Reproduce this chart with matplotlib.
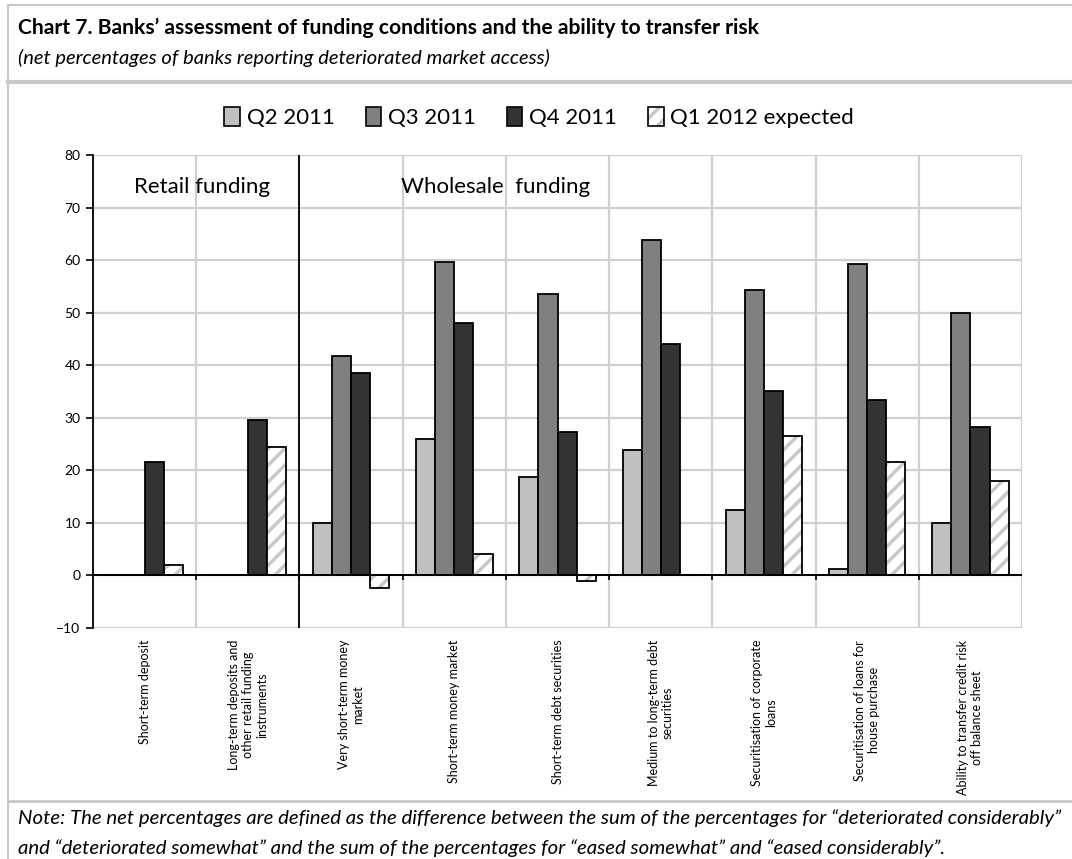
import numpy as np
import matplotlib
matplotlib.use("Agg")
import matplotlib.pyplot as plt  # noqa: E402
from matplotlib.lines import Line2D  # noqa: E402
from matplotlib.legend_handler import HandlerTuple  # noqa: E402
from matplotlib.transforms import blended_transform_factory  # noqa: E402

plt.rcParams["font.family"] = ["Lato", "DejaVu Sans"]
plt.rcParams["hatch.linewidth"] = 2.5

CATS = ["Short-term deposit",
        "Long-term deposits and\nother retail funding\ninstruments",
        "Very short-term money\nmarket",
        "Short-term money market",
        "Short-term debt securities",
        "Medium to long-term debt\nsecurities",
        "Securitisation of corporate\nloans",
        "Securitisation of loans for\nhouse purchase",
        "Ability to transfer credit risk\noff balance sheet"]
SERIES = ["Q2 2011", "Q3 2011", "Q4 2011", "Q1 2012 expected"]
q2_2011 = [0, 0, 10.0, 26.0, 18.8, 23.8, 12.5, 1.3, 10.0]
q3_2011 = [0, 0, 41.7, 59.7, 53.5, 63.8, 54.3, 59.2, 50.0]
q4_2011 = [21.5, 29.5, 38.5, 48.0, 27.3, 44.0, 35.0, 33.3, 28.3]
q1_2012e = [2.0, 24.5, -2.3, 4.0, -1.0, 0, 26.5, 21.5, 18.0]

FILLS = ["#c0c0c0", "#808080", "#333333", "white"]
HATCH_C = "#c8c8c8"
W = 0.185

fig = plt.figure(figsize=(10.72, 8.59), dpi=100)
ax = fig.add_axes([0.0868, 0.2689, 0.8666, 0.5507])

x = np.arange(len(CATS))
for k, (vals, fc) in enumerate(zip([q2_2011, q3_2011, q4_2011, q1_2012e], FILLS)):
    pos = x + (k - 1.5) * W
    if k == 3:
        # light grey hatch first, black outline on top
        ax.bar(pos, vals, W, color="white", edgecolor=HATCH_C, hatch="//", lw=0, zorder=3)
        ax.bar(pos, vals, W, facecolor="none", edgecolor="black", lw=1.3, zorder=4)
    else:
        ax.bar(pos, vals, W, color=fc, edgecolor="black", lw=1.3, zorder=3)

ax.set_xlim(-0.5, len(CATS) - 0.5)
ax.set_ylim(-10, 80)
ax.set_yticks(range(-10, 81, 10))
ax.tick_params(axis="y", direction="out", length=5, width=1.2, labelsize=10, pad=4)
ax.set_xticks([])
bounds = np.arange(-0.5, len(CATS), 1.0)
ax.set_xticks(bounds, minor=True)
ax.tick_params(axis="x", which="minor", length=0)
ax.grid(axis="y", color="#d0d0d0", lw=1.6, zorder=0)
ax.grid(axis="x", which="minor", color="#d0d0d0", lw=1.6, zorder=0)
for s in ["top", "right", "bottom"]:
    ax.spines[s].set_visible(False)
ax.spines["left"].set_linewidth(1.3)
ax.axhline(0, color="black", lw=1.4, zorder=5)
ax.axvline(1.5, color="black", lw=1.3, zorder=5)
ax.vlines(bounds[1:-1], -0.9, 0, color="black", lw=1.2, zorder=5)

ax.text(0.556, 74.0, "Retail funding", fontsize=16, ha="center", va="center")
ax.text(3.40, 74.0, "Wholesale  funding", fontsize=16, ha="center", va="center")

tr = blended_transform_factory(ax.transData, ax.transAxes)
for i, lab in enumerate(CATS):
    ax.text(i, -0.025, lab, transform=tr, rotation=90, ha="center", va="top",
            multialignment="center", fontsize=9, linespacing=1.2)

# legend handles; the expected series gets a grey hatch under a black outline
handles = [plt.Rectangle((0, 0), 1, 1, facecolor=fc, edgecolor="black", lw=1.2)
           for fc in FILLS[:3]]
handles.append((plt.Rectangle((0, 0), 1, 1, facecolor="white", edgecolor=HATCH_C,
                              hatch="//", lw=0),
                plt.Rectangle((0, 0), 1, 1, facecolor="none", edgecolor="black", lw=1.2)))
fig.legend(handles, SERIES, loc="center", bbox_to_anchor=(0.503, 0.863), ncol=4,
           frameon=False, fontsize=16, handlelength=0.7, handleheight=0.9,
           handletextpad=0.3, columnspacing=1.4,
           handler_map={tuple: HandlerTuple(ndivide=1, pad=0)})

fig.text(0.017, 0.968, "Chart 7. Banks\u2019 assessment of funding conditions and the ability to transfer risk",
         fontsize=15.2, fontweight="bold", va="center")
fig.text(0.017, 0.933, "(net percentages of banks reporting deteriorated market access)",
         fontsize=14.5, style="italic", va="center")
fig.text(0.017, 0.048,
         "Note: The net percentages are defined as the difference between the sum of the percentages for \u201cdeteriorated considerably\u201d",
         fontsize=14.7, style="italic", va="center")
fig.text(0.017, 0.013,
         "and \u201cdeteriorated somewhat\u201d and the sum of the percentages for \u201ceased somewhat\u201d and \u201ceased considerably\u201d.",
         fontsize=14.7, style="italic", va="center")

# outer box and separators
frame = "#c8c8c8"
fig.add_artist(Line2D([0.0075, 0.0075], [0, 0.994], color=frame, lw=1.5))
fig.add_artist(Line2D([0.0075, 1], [0.994, 0.994], color=frame, lw=1.5))
fig.add_artist(Line2D([0.0075, 1], [0.904, 0.904], color=frame, lw=3))
fig.add_artist(Line2D([0.0075, 1], [0.068, 0.068], color=frame, lw=2))

fig.savefig("out.png", dpi=100)
